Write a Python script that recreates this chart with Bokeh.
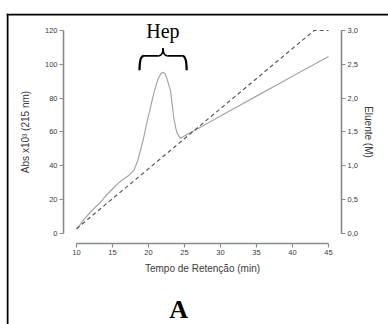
from bokeh.plotting import figure
from bokeh.models import Range1d, LinearAxis, FixedTicker, BoxAnnotation
from bokeh.core.properties import value
from bokeh.embed import file_html
from bokeh.resources import INLINE

# ---- data ----
time_abs = [10, 11, 12, 13.3, 14, 15.2, 16, 16.8, 17.3, 18, 18.5, 19, 19.35, 19.8,
            20.3, 20.8, 21.3, 21.7, 22.0, 22.3, 22.6, 23.06, 23.3, 23.5, 23.8, 24.0,
            24.4, 24.8, 25.5, 26.4, 30, 35, 40, 45]
absorbance = [2.5, 8, 13, 18.3, 22, 27.2, 30.5, 33, 34.5, 37.5, 43, 51, 57, 66,
              75, 84, 91, 94.5, 95.3, 94.5, 91, 84.5, 76, 68.7, 62, 59,
              56.4, 57.2, 59, 60.9, 69.4, 81.2, 93, 104.6]
time_grad = [10, 43, 45]
eluent = [0.07, 3.0, 3.0]

x_ticks = [10, 15, 20, 25, 30, 35, 40, 45]
y_ticks = [0, 20, 40, 60, 80, 100, 120]
m_ticks = [0.0, 0.5, 1.0, 1.5, 2.0, 2.5, 3.0]
m_labels = {t: ("%.1f" % t).replace(".", ",") for t in m_ticks}

# brace over the heparin peak (time span and heights in data units)
brace_left, brace_right = 18.75, 25.3
brace_end_y, brace_arm_y, brace_tip_y = 96.5, 105.0, 109.6

SANS = "Liberation Sans"
SERIF = "Liberation Serif"
AXIS_COL = "#8a8a8a"
TXT_COL = "#3a3a3a"

W, H = 388, 324
X0, X1 = 0.2778, 53.333
Y0, Y1 = -53.793, 130.049
X_LEFT_AXIS, X_RIGHT_AXIS, Y_BOTTOM_AXIS = 8.194, 46.806, -5.911

p = figure(width=W, height=H, output_backend="svg", toolbar_location=None,
           x_range=Range1d(X0, X1), y_range=Range1d(Y0, Y1),
           min_border_left=6, min_border_top=13, min_border_right=0, min_border_bottom=0)
p.grid.visible = False
p.outline_line_color = None
p.extra_y_ranges = {"M": Range1d(Y0 / 40, Y1 / 40)}

def style_axis(ax, size="7.5px"):
    ax.axis_line_color = AXIS_COL
    ax.axis_line_width = 1.6
    ax.major_tick_line_color = AXIS_COL
    ax.major_tick_line_width = 1.2
    ax.major_tick_in = 0
    ax.major_tick_out = 4
    ax.minor_tick_line_color = None
    ax.major_label_text_font = SANS
    ax.major_label_text_font_size = size
    ax.major_label_text_color = TXT_COL
    ax.axis_label_text_font = SANS
    ax.axis_label_text_font_size = "10px"
    ax.axis_label_text_font_style = "normal"
    ax.axis_label_text_color = TXT_COL

xa = p.xaxis[0]
style_axis(xa)
xa.ticker = FixedTicker(ticks=x_ticks)
xa.bounds = (10, 45)
xa.fixed_location = Y_BOTTOM_AXIS
xa.axis_label = "Tempo de Retenção (min)"
xa.major_label_standoff = 3
xa.axis_label_standoff = 4

ya = p.yaxis[0]
style_axis(ya)
ya.ticker = FixedTicker(ticks=y_ticks)
ya.bounds = (0, 120)
ya.fixed_location = X_LEFT_AXIS
ya.axis_label = "Abs x10³ (215 nm)"
ya.major_label_standoff = 2
ya.axis_label_standoff = 11

ra = LinearAxis(y_range_name="M", axis_label="Eluente (M)")
style_axis(ra)
ra.ticker = FixedTicker(ticks=m_ticks)
ra.bounds = (0, 3)
ra.fixed_location = X_RIGHT_AXIS
ra.major_label_overrides = m_labels
ra.major_label_standoff = 2
ra.axis_label_standoff = 2
p.add_layout(ra, "right")

# left and top border of the original figure panel
p.add_layout(BoxAnnotation(left=6, right=8, top=13, bottom=H,
                           left_units="canvas", right_units="canvas",
                           top_units="canvas", bottom_units="canvas",
                           fill_color="black", fill_alpha=1, line_color=None,
                           level="overlay"))
p.add_layout(BoxAnnotation(left=6, right=W, top=13, bottom=15,
                           left_units="canvas", right_units="canvas",
                           top_units="canvas", bottom_units="canvas",
                           fill_color="black", fill_alpha=1, line_color=None,
                           level="overlay"))

p.line(time_abs, absorbance, line_color="#a6a6a6", line_width=1.2)
p.line(time_grad, eluent, y_range_name="M", line_color="#5a5a5a", line_width=1.2,
       line_dash="4 3")

# curly brace built from quadratic curves and straight arms
bc = (brace_left + brace_right) / 2
q_end = 0.6
q_mid = 0.6
p.quadratic(x0=[brace_left, brace_right], y0=[brace_end_y, brace_end_y],
            x1=[brace_left + q_end, brace_right - q_end], y1=[brace_arm_y, brace_arm_y],
            cx=[brace_left, brace_right], cy=[brace_arm_y, brace_arm_y],
            line_color="black", line_width=2.2)
p.segment(x0=[brace_left + q_end, bc + q_mid], y0=[brace_arm_y, brace_arm_y],
          x1=[bc - q_mid, brace_right - q_end], y1=[brace_arm_y, brace_arm_y],
          line_color="black", line_width=1.6)
p.quadratic(x0=[bc - q_mid, bc + q_mid], y0=[brace_arm_y, brace_arm_y],
            x1=[bc, bc], y1=[brace_tip_y, brace_tip_y],
            cx=[bc, bc], cy=[brace_arm_y, brace_arm_y],
            line_color="black", line_width=1.6)

p.text(x=[22.0], y=[119.7], text=["Hep"], text_font=value(SERIF), text_font_size="20px",
       text_color="black", text_align="center", text_baseline="middle")

p.text(x=[24.17], y=[-44.9], text=["A"], text_font=value(SERIF), text_font_size="26px",
       text_font_style="bold", text_color="black", text_align="center",
       text_baseline="middle")

open("out.html", "w").write(file_html(p, INLINE))
